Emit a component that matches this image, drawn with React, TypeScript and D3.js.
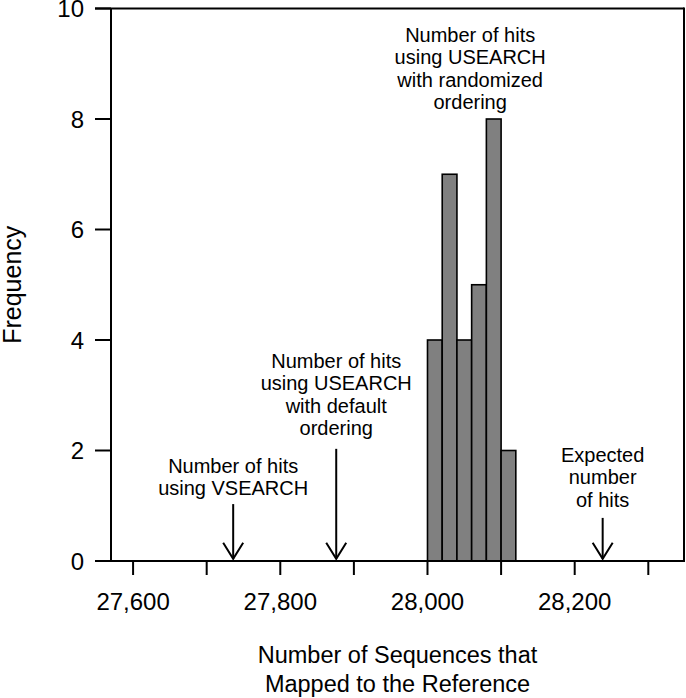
import React from 'react';
import { scaleLinear, range } from 'd3';

// histogram bins (left edge) and counts
const binStarts = [28000, 28020, 28040, 28060, 28080, 28100];
const binCounts = [4, 7, 4, 5, 8, 2];
const binWidth = 20;

const xTicks = [27600, 27700, 27800, 27900, 28000, 28100, 28200, 28300];
const xTickLabels = ['27,600', '', '27,800', '', '28,000', '', '28,200', ''];
const yTicks = [0, 2, 4, 6, 8, 10];

// annotations: arrow position, arrow top (frequency), first text baseline (frequency), lines
const noteX = [27736, 27876, 28238, 28058];
const noteArrowTop = [1.03, 2.03, 0.78, null];
const noteTextY = [1.6, 3.5, 1.8, 9.4];
const noteLines = [
  ['Number of hits', 'using VSEARCH'],
  ['Number of hits', 'using USEARCH', 'with default', 'ordering'],
  ['Expected', 'number', 'of hits'],
  ['Number of hits', 'using USEARCH', 'with randomized', 'ordering'],
];

const W = 686;
const H = 698;
const left = 111, right = 684, top = 8.5, bottom = 561;
const font = '"Liberation Sans", Arial, Helvetica, sans-serif';

export default function App() {
  const x = scaleLinear().domain([27570, 28348.5]).range([left, right]);
  const y = scaleLinear().domain([0, 10]).range([bottom, top]);
  const lineH = 22.5;

  return (
    <svg width={W} height={H} style={{ position: 'absolute', left: 0, top: 0, background: '#fff' }}
      fontFamily={font}>
      {/* bars */}
      {binStarts.map((b, i) => (
        <rect key={i} x={x(b)} y={y(binCounts[i])} width={x(b + binWidth) - x(b)}
          height={y(0) - y(binCounts[i])} fill="#808080" stroke="#000" strokeWidth={1.6} />
      ))}

      {/* frame */}
      <line x1={95} x2={right} y1={top} y2={top} stroke="#000" strokeWidth={2} />
      <line x1={95} x2={right + 1} y1={bottom} y2={bottom} stroke="#000" strokeWidth={2} />
      <line x1={left} x2={left} y1={top} y2={bottom} stroke="#000" strokeWidth={2} />
      <line x1={right} x2={right} y1={top - 1} y2={bottom} stroke="#000" strokeWidth={2} />

      {/* y axis */}
      {yTicks.map(t => (
        <g key={t}>
          <line x1={95} x2={left} y1={y(t)} y2={y(t)} stroke="#000" strokeWidth={2} />
          <text x={84} y={y(t)} dy="0.36em" textAnchor="end" fontSize={24}>{t}</text>
        </g>
      ))}

      {/* x axis */}
      {xTicks.map((t, i) => (
        <g key={t}>
          <line x1={x(t)} x2={x(t)} y1={bottom} y2={bottom + 14} stroke="#000" strokeWidth={2} />
          <text x={x(t)} y={610} textAnchor="middle" fontSize={24}>{xTickLabels[i]}</text>
        </g>
      ))}

      {/* axis titles */}
      <text x={(left + right) / 2} y={663} textAnchor="middle" fontSize={23.5}>Number of Sequences that</text>
      <text x={(left + right) / 2} y={692} textAnchor="middle" fontSize={23.5}>Mapped to the Reference</text>
      <text transform={`translate(21,${(top + bottom) / 2}) rotate(-90)`} textAnchor="middle" fontSize={25}>Frequency</text>

      {/* annotations */}
      {noteX.map((nx, i) => {
        const cx = x(nx);
        const at = noteArrowTop[i];
        const tip = y(0.04);
        return (
          <g key={i}>
            {noteLines[i].map((s, j) => (
              <text key={j} x={cx} y={y(noteTextY[i]) + j * lineH} textAnchor="middle" fontSize={20}>{s}</text>
            ))}
            {at !== null && (
              <g stroke="#000" strokeWidth={2} fill="none">
                <line x1={cx} x2={cx} y1={y(at)} y2={tip} />
                <polyline points={`${cx - 10},${tip - 16} ${cx},${tip} ${cx + 10},${tip - 16}`} />
              </g>
            )}
          </g>
        );
      })}
    </svg>
  );
}
